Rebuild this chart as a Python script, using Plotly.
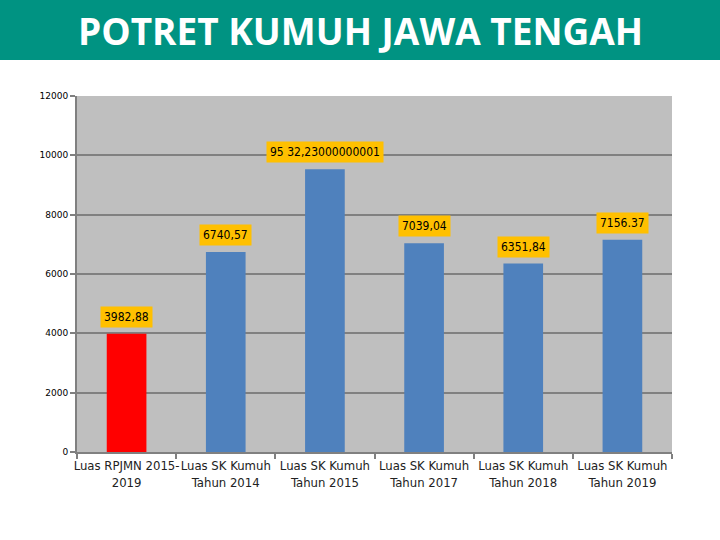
import plotly.graph_objects as go

categories = ["Luas RPJMN 2015-<br>2019", "Luas SK Kumuh<br>Tahun 2014", "Luas SK Kumuh<br>Tahun 2015",
              "Luas SK Kumuh<br>Tahun 2017", "Luas SK Kumuh<br>Tahun 2018", "Luas SK Kumuh<br>Tahun 2019"]
values = [3982.88, 6740.57, 9532.23000000001, 7039.04, 6351.84, 7156.37]
value_labels = ["3982,88", "6740,57", "95 32,23000000001", "7039,04", "6351,84", "7156.37"]
bar_colors = ["#FF0000", "#4F81BD", "#4F81BD", "#4F81BD", "#4F81BD", "#4F81BD"]
y_ticks = [0, 2000, 4000, 6000, 8000, 10000, 12000]

fig = go.Figure()
fig.add_trace(go.Bar(
    x=categories,
    y=values,
    marker=dict(color=bar_colors, line=dict(width=0)),
    width=0.4,
    showlegend=False,
))

for cat, val, txt in zip(categories, values, value_labels):
    fig.add_annotation(
        x=cat, y=val, text=txt, showarrow=False,
        yshift=17, bgcolor="#FFC000", borderpad=3,
        font=dict(family="DejaVu Sans Condensed, DejaVu Sans", size=12, color="#000000"),
    )

# title bar across the top of the page
fig.add_shape(type="rect", xref="paper", yref="paper",
              x0=-0.14, x1=1.1, y0=1 + 36 / 356, y1=1 + 100 / 356,
              fillcolor="#009382", line=dict(width=0), layer="below")
fig.add_annotation(
    xref="paper", yref="paper", x=(360 - 77) / 595, y=1 + 65 / 356,
    xanchor="center", yanchor="middle",
    text="<b>POTRET KUMUH JAWA TENGAH</b>",
    showarrow=False, font=dict(family="Open Sans", size=37, color="#FFFFFF"),
)

fig.update_layout(
    width=720, height=540,
    margin=dict(l=77, r=48, t=96, b=88, autoexpand=False),
    plot_bgcolor="#BFBFBF",
    paper_bgcolor="#FFFFFF",
    xaxis=dict(
        tickson="boundaries", ticks="outside", ticklen=5, tickcolor="#808080", tickwidth=2,
        showline=True, linecolor="#808080", linewidth=2, showgrid=False, tickangle=0,
        tickfont=dict(family="Liberation Sans Narrow, DejaVu Sans Condensed", size=13, color="#222222"),
    ),
    yaxis=dict(
        range=[0, 12000], tickvals=y_ticks, ticktext=[str(t) for t in y_ticks],
        ticks="outside", ticklen=5, tickcolor="#808080", tickwidth=2,
        showline=True, linecolor="#808080", linewidth=2,
        gridcolor="#808080", gridwidth=2, zeroline=False,
        tickfont=dict(family="DejaVu Sans", size=9, color="#000000"),
    ),
)

fig.write_html("out.html", config={"displayModeBar": False},
               post_script="document.body.style.margin='0';")
